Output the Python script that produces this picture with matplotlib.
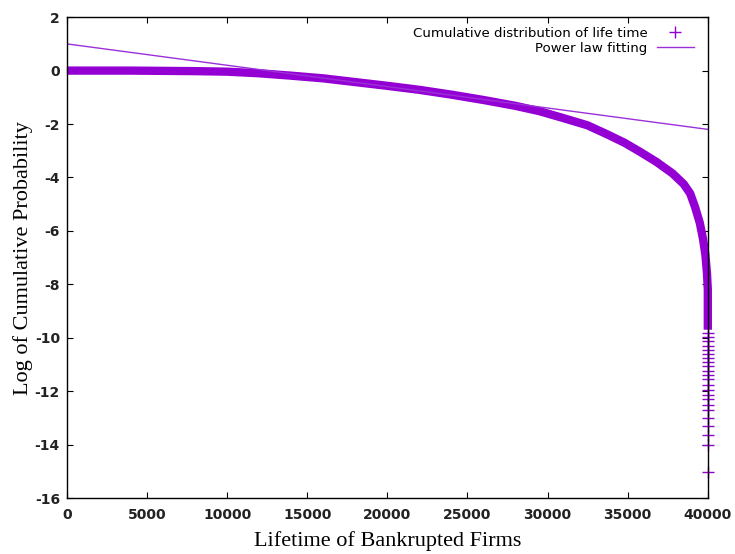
import numpy as np
import matplotlib
matplotlib.use("Agg")
import matplotlib.pyplot as plt

plt.rcParams["axes.unicode_minus"] = False

# cumulative distribution of firm lifetime (log scale on y)
life_x = [0, 2000, 4000, 6000, 8000, 10000, 12000, 14000, 16000, 18000,
          20000, 22000, 24000, 26000, 28000, 29500, 31000, 32500, 33700,
          34800, 35800, 36800, 37800, 38500, 38900, 39200, 39500, 39700,
          39850, 39950, 40000, 40000, 40000]
life_y = [0.0, 0.0, 0.0, -0.01, -0.02, -0.04, -0.10, -0.19, -0.29, -0.43,
          -0.57, -0.72, -0.90, -1.10, -1.32, -1.52, -1.78, -2.05, -2.38,
          -2.70, -3.05, -3.42, -3.85, -4.25, -4.60, -5.10, -5.70, -6.30,
          -6.90, -7.60, -8.20, -9.00, -9.70]

# sparse points of the last few firms
tail_y = [-9.84, -9.99, -10.14, -10.29, -10.44, -10.59, -10.75, -10.91,
          -11.06, -11.25, -11.41, -11.56, -11.75, -11.94, -12.13, -12.31,
          -12.50, -12.71, -13.00, -13.29, -13.63, -14.03, -15.03]
tail_x = [40000] * len(tail_y)

# straight-line fit
fit_a, fit_b = 1.0, -8.0e-5
fit_x = np.array([0, 40000])
fit_y = fit_a + fit_b * fit_x

color = "#9400D3"

fig = plt.figure(figsize=(7.35, 5.54), dpi=100)
ax = fig.add_axes([0.091, 0.101, 0.872, 0.868])

# dense points merge into a solid band
ax.plot(life_x, life_y, color=color, lw=6, solid_capstyle="butt",
        solid_joinstyle="round", clip_on=False)
ax.plot(tail_x, tail_y, "+", color=color, ms=8, mew=1.0, clip_on=False,
        label="Cumulative distribution of life time")
ax.plot(fit_x, fit_y, color="#9b30d9", lw=1, label="Power law fitting")

ax.set_xlim(0, 40000)
ax.set_ylim(-16, 2)
ax.set_xticks(np.arange(0, 40001, 5000))
ax.set_yticks(np.arange(-16, 3, 2))
ax.tick_params(direction="in", top=True, right=True, length=4, width=0.8)
ax.tick_params(axis="x", pad=7)
ax.tick_params(axis="y", pad=5)
for lab in ax.get_xticklabels() + ax.get_yticklabels():
    lab.set_fontsize(10)
    lab.set_fontweight("bold")
    lab.set_color("#222222")
for s in ax.spines.values():
    s.set_linewidth(1.0)

ax.set_xlabel("Lifetime of Bankrupted Firms", family="Liberation Serif",
              fontsize=16, labelpad=7)
ax.set_ylabel("Log of Cumulative Probability", family="Liberation Serif",
              fontsize=16, labelpad=1)

leg = ax.legend(loc="upper right", frameon=False, markerfirst=False,
                fontsize=9.6, handlelength=2.8, handletextpad=0.7,
                labelspacing=0.15, borderaxespad=0.3,
                bbox_to_anchor=(0.993, 1.0))

fig.savefig("out.png", dpi=100)
